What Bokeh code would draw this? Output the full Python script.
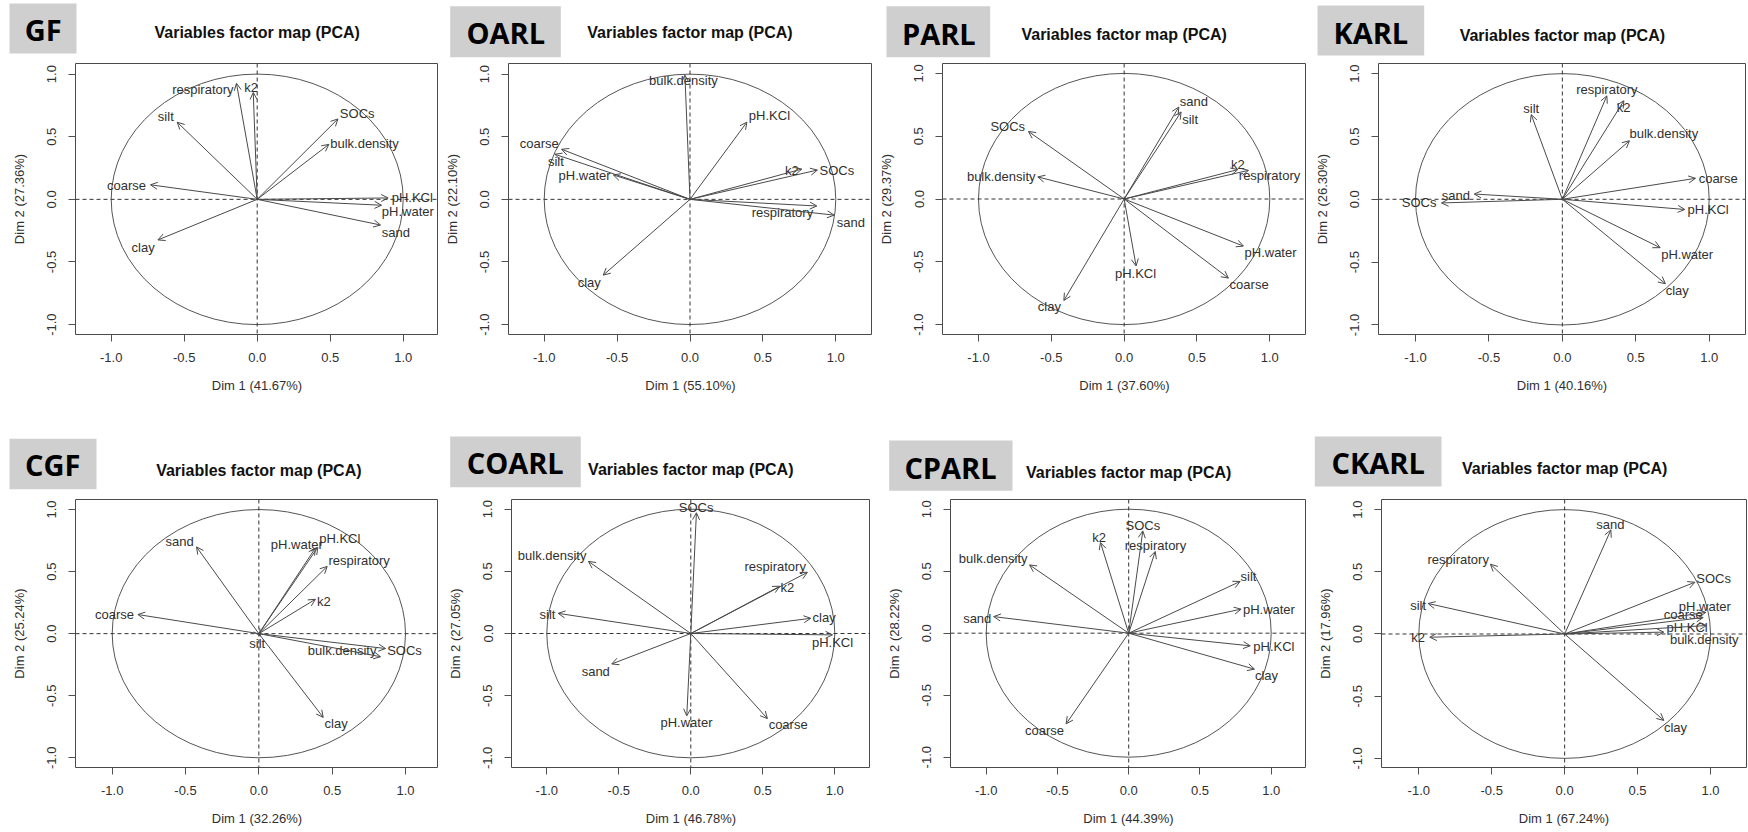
from bokeh.plotting import figure
from bokeh.layouts import column, row
from bokeh.models import (ColumnDataSource, Arrow, OpenHead, Span, FixedTicker,
                          PrintfTickFormatter, Range1d)
from bokeh.core.properties import value
from bokeh.embed import file_html
from bokeh.resources import INLINE

# ---------------- data ----------------
panel_names = ["GF", "OARL", "PARL", "KARL", "CGF", "COARL", "CPARL", "CKARL"]
dim1_pct = ["41.67", "55.10", "37.60", "40.16", "32.26", "46.78", "44.39", "67.24"]
dim2_pct = ["27.36", "22.10", "29.37", "26.30", "25.24", "27.05", "28.22", "17.96"]
tick_values = [-1.0, -0.5, 0.0, 0.5, 1.0]
title_text = "Variables factor map (PCA)"

GF_vars = ["respiratory", "k2", "silt", "SOCs", "bulk.density", "coarse", "pH.KCl", "pH.water", "sand", "clay"]
GF_x = [-0.142, -0.027, -0.548, 0.553, 0.491, -0.731, 0.897, 0.852, 0.845, -0.680]
GF_y = [0.926, 0.853, 0.616, 0.642, 0.439, 0.116, 0.011, -0.047, -0.205, -0.324]
GF_lx = [-0.372, -0.041, -0.626, 0.685, 0.735, -0.895, 1.062, 1.032, 0.950, -0.781]
GF_ly = [0.874, 0.892, 0.663, 0.687, 0.442, 0.111, 0.011, -0.100, -0.263, -0.382]

OARL_vars = ["bulk.density", "pH.KCl", "coarse", "silt", "pH.water", "k2", "SOCs", "respiratory", "sand", "clay"]
OARL_x = [-0.035, 0.390, -0.881, -0.927, -0.526, 0.767, 0.874, 0.870, 0.989, -0.595]
OARL_y = [0.992, 0.616, 0.400, 0.360, 0.195, 0.242, 0.234, -0.053, -0.126, -0.605]
OARL_lx = [-0.045, 0.545, -1.034, -0.920, -0.723, 0.698, 1.007, 0.634, 1.103, -0.691]
OARL_ly = [0.947, 0.668, 0.442, 0.305, 0.189, 0.234, 0.232, -0.105, -0.184, -0.666]

PARL_vars = ["sand", "silt", "SOCs", "bulk.density", "k2", "respiratory", "pH.water", "coarse", "pH.KCl", "clay"]
PARL_x = [0.375, 0.391, -0.657, -0.593, 0.780, 0.854, 0.819, 0.716, 0.082, -0.414]
PARL_y = [0.732, 0.693, 0.538, 0.176, 0.234, 0.228, -0.375, -0.630, -0.533, -0.808]
PARL_lx = [0.478, 0.453, -0.799, -0.844, 0.780, 0.998, 1.005, 0.858, 0.078, -0.513]
PARL_ly = [0.774, 0.635, 0.577, 0.176, 0.276, 0.186, -0.428, -0.680, -0.591, -0.853]

KARL_vars = ["respiratory", "k2", "silt", "bulk.density", "coarse", "sand", "SOCs", "pH.KCl", "pH.water", "clay"]
KARL_x = [0.303, 0.419, -0.212, 0.457, 0.907, -0.600, -0.823, 0.834, 0.666, 0.702]
KARL_y = [0.823, 0.784, 0.674, 0.466, 0.167, 0.042, -0.029, -0.081, -0.385, -0.672]
KARL_lx = [0.303, 0.417, -0.212, 0.691, 1.061, -0.725, -0.975, 0.993, 0.850, 0.782]
KARL_ly = [0.870, 0.732, 0.719, 0.521, 0.167, 0.034, -0.029, -0.083, -0.438, -0.727]

CGF_vars = ["sand", "pH.water", "pH.KCl", "respiratory", "k2", "coarse", "silt", "bulk.density", "SOCs", "clay"]
CGF_x = [-0.425, 0.386, 0.402, 0.466, 0.386, -0.825, 0.010, 0.830, 0.864, 0.439]
CGF_y = [0.699, 0.691, 0.696, 0.542, 0.277, 0.154, -0.020, -0.186, -0.120, -0.675]
CGF_lx = [-0.541, 0.259, 0.552, 0.684, 0.443, -0.984, -0.011, 0.568, 0.993, 0.527]
CGF_ly = [0.741, 0.717, 0.770, 0.592, 0.259, 0.154, -0.076, -0.139, -0.139, -0.728]

COARL_vars = ["SOCs", "bulk.density", "respiratory", "k2", "silt", "clay", "pH.KCl", "sand", "pH.water", "coarse"]
COARL_x = [0.039, -0.711, 0.810, 0.618, -0.921, 0.833, 0.984, -0.549, -0.028, 0.532]
COARL_y = [0.971, 0.580, 0.492, 0.380, 0.162, 0.122, -0.011, -0.245, -0.662, -0.684]
COARL_lx = [0.037, -0.963, 0.586, 0.671, -0.995, 0.926, 0.984, -0.660, -0.030, 0.676]
COARL_ly = [1.013, 0.625, 0.540, 0.372, 0.154, 0.128, -0.072, -0.303, -0.718, -0.729]

CPARL_vars = ["SOCs", "k2", "respiratory", "bulk.density", "silt", "pH.water", "sand", "pH.KCl", "clay", "coarse"]
CPARL_x = [0.099, -0.198, 0.186, -0.696, 0.782, 0.789, -0.948, 0.853, 0.883, -0.439]
CPARL_y = [0.825, 0.731, 0.659, 0.551, 0.417, 0.194, 0.134, -0.102, -0.290, -0.731]
CPARL_lx = [0.099, -0.207, 0.188, -0.951, 0.841, 0.984, -1.063, 1.019, 0.967, -0.591]
CPARL_ly = [0.868, 0.774, 0.707, 0.599, 0.457, 0.188, 0.121, -0.108, -0.341, -0.785]

CKARL_vars = ["sand", "respiratory", "SOCs", "silt", "pH.water", "coarse", "pH.KCl", "bulk.density", "k2", "clay"]
CKARL_x = [0.317, -0.509, 0.893, -0.936, 0.968, 0.950, 0.973, 0.680, -0.925, 0.680]
CKARL_y = [0.837, 0.561, 0.416, 0.245, 0.174, 0.132, 0.068, 0.015, -0.026, -0.695]
CKARL_lx = [0.314, -0.730, 1.021, -1.005, 0.961, 0.813, 0.840, 0.957, -1.005, 0.760]
CKARL_ly = [0.882, 0.600, 0.447, 0.232, 0.224, 0.153, 0.053, -0.045, -0.032, -0.753]

panel_data = {
    "GF": (GF_vars, GF_x, GF_y, GF_lx, GF_ly),
    "OARL": (OARL_vars, OARL_x, OARL_y, OARL_lx, OARL_ly),
    "PARL": (PARL_vars, PARL_x, PARL_y, PARL_lx, PARL_ly),
    "KARL": (KARL_vars, KARL_x, KARL_y, KARL_lx, KARL_ly),
    "CGF": (CGF_vars, CGF_x, CGF_y, CGF_lx, CGF_ly),
    "COARL": (COARL_vars, COARL_x, COARL_y, COARL_lx, COARL_ly),
    "CPARL": (CPARL_vars, CPARL_x, CPARL_y, CPARL_lx, CPARL_ly),
    "CKARL": (CKARL_vars, CKARL_x, CKARL_y, CKARL_lx, CKARL_ly),
}

# ---------------- layout (page pixel geometry) ----------------
PAGE_W = 1748
# (header top, header bottom / panels top, panels bottom) per row
ROWS = [(0, 58, 416), (416, 493, 832)]
# fl/w: figure left & width; L,R,T,B: frame box; x0,sx,y0,sy: where 0 sits and px per unit
layout = {
    "GF":    dict(row=0, fl=0,    w=438, L=75,   R=438,  T=60,  B=334, x0=256.7,   sx=146.0,  y0=197.35, sy=126.65, ty=32.3,  box=(9, 3, 76, 53),            nc=(42.7, 29.3)),
    "OARL":  dict(row=0, fl=438,  w=434, L=508,  R=872,  T=60,  B=334, x0=689.5,   sx=145.8,  y0=197.35, sy=126.65, ty=32.3,  box=(449.7, 5.7, 560.3, 56.7), nc=(505.3, 32.3)),
    "PARL":  dict(row=0, fl=872,  w=434, L=942,  R=1306, T=62,  B=336, x0=1123.65, sx=145.65, y0=199.0,  sy=127.0,  ty=34.3,  box=(886, 5.7, 989.7, 56.7),   nc=(938.3, 33.3)),
    "KARL":  dict(row=0, fl=1306, w=442, L=1378, R=1745, T=63,  B=339, x0=1561.85, sx=146.85, y0=201.3,  sy=128.0,  ty=35.0,  box=(1317, 5, 1423.7, 55),     nc=(1370.3, 32.3)),
    "CGF":   dict(row=1, fl=0,    w=438, L=75,   R=438,  T=498, B=773, x0=258.35,  sx=146.65, y0=635.65, sy=127.35, ty=470.3, box=(9, 438.3, 96, 488.7),     nc=(52.3, 464.3)),
    "COARL": dict(row=1, fl=438,  w=432, L=511,  R=870,  T=497, B=767, x0=690.3,   sx=144.0,  y0=632.0,  sy=125.3,  ty=469.3, box=(449.7, 436, 580.3, 486.7), nc=(514.7, 461.7)),
    "CPARL": dict(row=1, fl=870,  w=436, L=950,  R=1306, T=499, B=767, x0=1128.2,  sx=142.5,  y0=632.7,  sy=124.0,  ty=471.7, box=(888.7, 440, 1012, 490.3),  nc=(950.0, 466.7)),
    "CKARL": dict(row=1, fl=1306, w=442, L=1381, R=1746, T=495, B=768, x0=1564.15, sx=145.85, y0=632.0,  sy=126.7,  ty=467.7, box=(1314.3, 436, 1441, 486),   nc=(1377.7, 461.7)),
}

FONT = "Liberation Sans"
ARROW_C = "#4a4a4a"
TEXT_C = "#303030"
AXIS_C = "#505050"


def make_panel(i):
    name = panel_names[i]
    g = layout[name]
    _, top, bottom = ROWS[g["row"]]
    xs, xe = (g["L"] - g["x0"]) / g["sx"], (g["R"] - g["x0"]) / g["sx"]
    ye, ys = (g["y0"] - g["T"]) / g["sy"], (g["y0"] - g["B"]) / g["sy"]

    p = figure(width=g["w"], height=bottom - top, output_backend="svg", toolbar_location=None,
               x_range=Range1d(xs, xe), y_range=Range1d(ys, ye),
               min_border_left=g["L"] - g["fl"], min_border_right=g["fl"] + g["w"] - g["R"],
               min_border_top=g["T"] - top, min_border_bottom=bottom - g["B"],
               background_fill_color="white", border_fill_color="white")
    p.grid.visible = False
    p.outline_line_color = "#4a4a4a"
    p.outline_line_width = 1

    for ax in (p.xaxis[0], p.yaxis[0]):
        ax.ticker = FixedTicker(ticks=tick_values)
        ax.formatter = PrintfTickFormatter(format="%.1f")
        ax.axis_line_color = None
        ax.major_tick_line_color = AXIS_C
        ax.major_tick_out = 7
        ax.major_tick_in = 0
        ax.minor_tick_line_color = None
        ax.major_label_text_font = FONT
        ax.major_label_text_font_size = "13px"
        ax.major_label_text_color = TEXT_C
        ax.axis_label_text_font = FONT
        ax.axis_label_text_font_size = "13px"
        ax.axis_label_text_font_style = "normal"
        ax.axis_label_text_color = TEXT_C
    p.xaxis.axis_label = f"Dim 1 ({dim1_pct[i]}%)"
    p.yaxis.axis_label = f"Dim 2 ({dim2_pct[i]}%)"
    p.xaxis.major_label_standoff = 11
    p.xaxis.axis_label_standoff = 13
    p.yaxis.major_label_orientation = "parallel"
    p.yaxis.major_label_standoff = 12
    p.yaxis.axis_label_standoff = 18

    # correlation circle and reference lines
    p.ellipse(x=0, y=0, width=2, height=2, fill_color=None, line_color="#555555", line_width=1)
    p.add_layout(Span(location=0, dimension="width", line_dash="4 3", line_color="#333333", line_width=1))
    p.add_layout(Span(location=0, dimension="height", line_dash="4 3", line_color="#333333", line_width=1))

    vars_, vx, vy, lx, ly = panel_data[name]
    src = ColumnDataSource(dict(x=vx, y=vy, lx=lx, ly=ly, name=vars_))
    p.add_layout(Arrow(end=OpenHead(size=7, line_color=ARROW_C, line_width=1),
                       x_start=0, y_start=0, x_end="x", y_end="y", source=src,
                       line_color=ARROW_C, line_width=1))
    p.text(x="lx", y="ly", text="name", source=src, text_font=value(FONT),
           text_font_size="13px", text_align="center", text_baseline="middle",
           text_color=TEXT_C)
    return p


def make_header(r):
    htop, hbot, _ = ROWS[r]
    names = [n for n in panel_names if layout[n]["row"] == r]
    h = figure(width=PAGE_W, height=hbot - htop, output_backend="svg", toolbar_location=None,
               x_range=Range1d(0, PAGE_W), y_range=Range1d(hbot, htop),
               x_axis_type=None, y_axis_type=None, min_border=0,
               background_fill_color="white", border_fill_color="white")
    h.grid.visible = False
    h.outline_line_color = None
    boxes = [layout[n]["box"] for n in names]
    h.quad(left=[b[0] for b in boxes], right=[b[2] for b in boxes],
           top=[b[1] for b in boxes], bottom=[b[3] for b in boxes],
           fill_color="#cfcfcf", line_color=None)
    h.text(x=[layout[n]["nc"][0] for n in names], y=[layout[n]["nc"][1] for n in names],
           text=names, text_font=value("Open Sans"), text_font_size="29px",
           text_font_style="bold", text_color="#000000",
           text_align="center", text_baseline="middle")
    h.text(x=[layout[n]["x0"] for n in names], y=[layout[n]["ty"] for n in names],
           text=[title_text] * len(names), text_font=value(FONT), text_font_size="16px",
           text_font_style="bold", text_color="#111111",
           text_align="center", text_baseline="middle")
    return h


figs = [make_panel(i) for i in range(8)]
page = column(make_header(0), row(*figs[:4]), make_header(1), row(*figs[4:]))
open("out.html", "w").write(file_html(page, INLINE))
